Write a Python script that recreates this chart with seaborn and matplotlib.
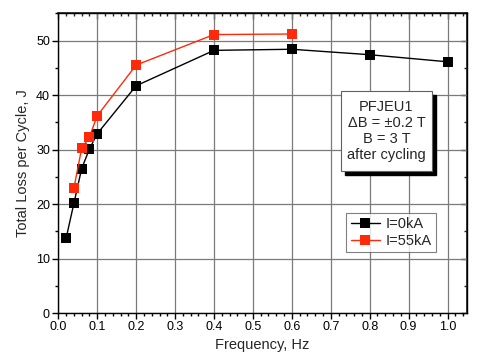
"""Total loss per cycle vs frequency for PFJEU1 (dB = +-0.2 T, B = 3 T)."""

import matplotlib
matplotlib.use("Agg")
import matplotlib.pyplot as plt
import pandas as pd
import seaborn as sns
from matplotlib.patches import FancyBboxPatch
from matplotlib.ticker import MultipleLocator

# Frequency (Hz) and total loss per cycle (J).
FREQ_0KA = [0.02, 0.04, 0.06, 0.08, 0.1, 0.2, 0.4, 0.6, 0.8, 1.0]
LOSS_0KA = [13.7, 20.1, 26.5, 30.1, 32.9, 41.7, 48.2, 48.4, 47.4, 46.1]
FREQ_55KA = [0.04, 0.06, 0.08, 0.1, 0.2, 0.4, 0.6]
LOSS_55KA = [22.9, 30.2, 32.3, 36.2, 45.5, 51.1, 51.2]

PALETTE = {"I=0kA": "#000000", "I=55kA": "#FF2A0A"}


def build_dataset():
    a = pd.DataFrame({"Frequency": FREQ_0KA, "Loss": LOSS_0KA, "Series": "I=0kA"})
    b = pd.DataFrame({"Frequency": FREQ_55KA, "Loss": LOSS_55KA, "Series": "I=55kA"})
    return pd.concat([a, b], ignore_index=True)


def apply_style():
    sns.set_theme(style="white")
    plt.rcParams["font.family"] = ["Liberation Sans", "DejaVu Sans"]
    plt.rcParams["font.size"] = 9


def plot(df):
    fig = plt.figure(figsize=(4.78, 3.6), dpi=100)
    ax = fig.add_axes([58.3 / 478, 1 - 313 / 360, (467 - 58.3) / 478, (313 - 13.3) / 360])

    sns.lineplot(
        data=df, x="Frequency", y="Loss", hue="Series", palette=PALETTE,
        marker="s", markersize=7, markeredgewidth=0, linewidth=1.0,
        sort=True, estimator=None, ax=ax,
    )

    ax.set_xlim(0, 1.05)
    ax.set_ylim(0, 55)
    ax.xaxis.set_major_locator(MultipleLocator(0.1))
    ax.xaxis.set_minor_locator(MultipleLocator(0.02))
    ax.yaxis.set_major_locator(MultipleLocator(10))
    ax.yaxis.set_minor_locator(MultipleLocator(5))
    ax.xaxis.set_major_formatter(plt.FuncFormatter(lambda v, _: f"{v:.1f}"))

    ax.grid(True, which="major", color="#7a7a7a", linewidth=0.9)
    ax.set_axisbelow(True)
    for s in ax.spines.values():
        s.set_color("black")
        s.set_linewidth(1.0)

    ax.tick_params(which="both", bottom=True, left=True, top=False, right=False,
                   direction="out", colors="black", labelsize=9, pad=2)
    ax.tick_params(which="major", length=4, width=1)
    ax.tick_params(which="minor", length=2.5, width=1)

    # Mirrored inward ticks on top and right, as in the original.
    top = ax.secondary_xaxis("top")
    top.xaxis.set_major_locator(MultipleLocator(0.1))
    top.xaxis.set_minor_locator(MultipleLocator(0.02))
    top.tick_params(which="both", direction="in", labeltop=False, width=1)
    top.tick_params(which="major", length=4)
    top.tick_params(which="minor", length=2.5)
    right = ax.secondary_yaxis("right")
    right.yaxis.set_major_locator(MultipleLocator(10))
    right.yaxis.set_minor_locator(MultipleLocator(5))
    right.tick_params(which="both", direction="in", labelright=False, width=1)
    right.tick_params(which="major", length=4)
    right.tick_params(which="minor", length=2.5)

    ax.set_xlabel("Frequency, Hz", fontsize=10.5, labelpad=3)
    ax.set_ylabel("Total Loss per Cycle, J", fontsize=10.5, labelpad=4)

    leg = ax.legend(loc="upper left", bbox_to_anchor=(0.705, 0.335), frameon=True,
                    fancybox=False, fontsize=10.5, handlelength=2.0, borderpad=0.3,
                    labelspacing=0.2, handletextpad=0.4, borderaxespad=0)
    leg.get_frame().set_edgecolor("#606060")
    leg.get_frame().set_linewidth(0.8)

    # Annotation box with a solid drop shadow.
    x0, y0, w, h = 341 / 478, 1 - 171 / 360, 91 / 478, 80 / 360
    shadow = FancyBboxPatch((x0 + 4 / 478, y0 - 4 / 360), w, h, boxstyle="square,pad=0",
                            transform=fig.transFigure, facecolor="black", edgecolor="black",
                            zorder=5)
    box = FancyBboxPatch((x0, y0), w, h, boxstyle="square,pad=0", transform=fig.transFigure,
                         facecolor="white", edgecolor="#606060", linewidth=0.8, zorder=6)
    fig.patches.extend([shadow, box])
    fig.text(x0 + w / 2, y0 + h / 2, "PFJEU1\n\u0394B = \u00b10.2 T\nB = 3 T\nafter cycling",
             ha="center", va="center", fontsize=10.5, linespacing=1.2, zorder=7)

    fig.savefig("out.png", dpi=100)


def main():
    apply_style()
    plot(build_dataset())


if __name__ == "__main__":
    main()
